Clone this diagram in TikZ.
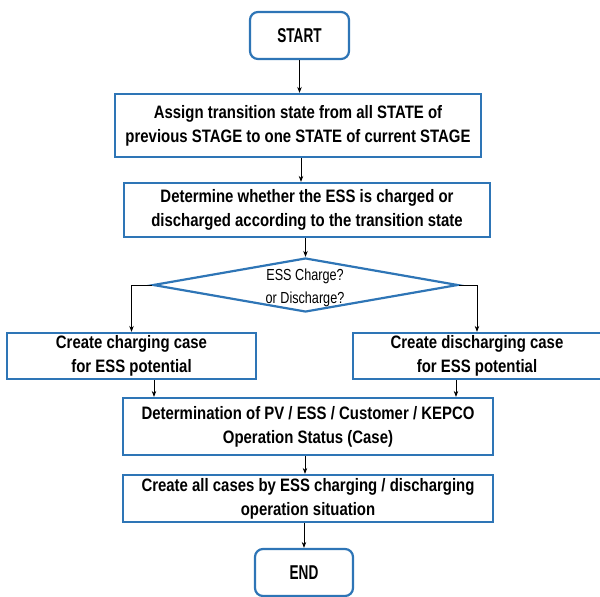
\documentclass[tikz,border=0pt]{standalone}
\usepackage{fontspec}
\setmainfont[FakeStretch=0.83]{Liberation Sans}
\newfontfamily\diafont[FakeStretch=0.79]{Liberation Sans}
\newfontfamily\termfont[FakeStretch=0.68]{Liberation Sans}
\usetikzlibrary{shapes.geometric,arrows.meta,calc}
\definecolor{boxblue}{HTML}{2E75B6}
\tikzset{
  procbox/.style={draw=boxblue, line width=2.2pt, fill=white, align=center, inner sep=0pt,
    font=\fontsize{18}{24}\selectfont\bfseries},
  termbox/.style={procbox, rounded corners=8pt, font=\termfont\fontsize{20}{24}\selectfont\bfseries},
  arr/.style={draw=black, line width=0.8pt, -{Stealth[length=6pt,width=4.5pt]}}
}
\begin{document}
\begin{tikzpicture}[x=1pt,y=-1pt]
\useasboundingbox (0,0) rectangle (600,597);
\node[termbox, minimum width=99pt, minimum height=47pt] (start) at (299.5,35.5) {START};
\node[procbox, minimum width=366pt, minimum height=63pt] (b1) at (298,125.5)
  {Assign transition state from all STATE of\\previous STAGE to one STATE of current STAGE};
\node[procbox, minimum width=366pt, minimum height=54pt] (b2) at (307,210)
  {Determine whether the ESS is charged or\\discharged according to the transition state};
\node[draw=boxblue, line width=2.2pt, diamond, minimum width=305pt, minimum height=54pt, inner sep=0pt] (dia) at (305.5,285) {};
\node[align=center, font=\diafont\fontsize{16}{23}\selectfont] (diat) at (305,288) {ESS Charge?\\or Discharge?};
\node[procbox, minimum width=249pt, minimum height=46pt] (lb) at (131.5,356)
  {Create charging case\\for ESS potential};
\node[procbox, minimum width=248pt, minimum height=46pt] (rb) at (477,356)
  {Create discharging case\\for ESS potential};
\node[procbox, minimum width=370pt, minimum height=57pt] (b3) at (308,426.5)
  {Determination of PV / ESS / Customer / KEPCO\\Operation Status (Case)};
\node[procbox, minimum width=370pt, minimum height=47pt] (b4) at (308,498.5)
  {Create all cases by ESS charging / discharging\\operation situation};
\node[termbox, minimum width=98pt, minimum height=47pt] (end) at (304,572.5) {END};

\draw[arr] (start.south) -- (start.south |- b1.north);
\draw[arr] ([xshift=3pt]b1.south) -- ([xshift=3pt]b1.south |- b2.north);
\draw[arr] (dia.north |- b2.south) -- (dia.north);
\draw[arr] (dia.west) -| (lb.north);
\draw[arr] (dia.east) -| (rb.north);
\draw[arr] ([xshift=22.5pt]lb.south) -- ([xshift=22.5pt]lb.south |- b3.north);
\draw[arr] ([xshift=-21pt]rb.south) -- ([xshift=-21pt]rb.south |- b3.north);
\draw[arr] ([xshift=-3pt]b3.south) -- ([xshift=-3pt]b3.south |- b4.north);
\draw[arr] (end.north |- b4.south) -- (end.north);
\end{tikzpicture}
\end{document}
